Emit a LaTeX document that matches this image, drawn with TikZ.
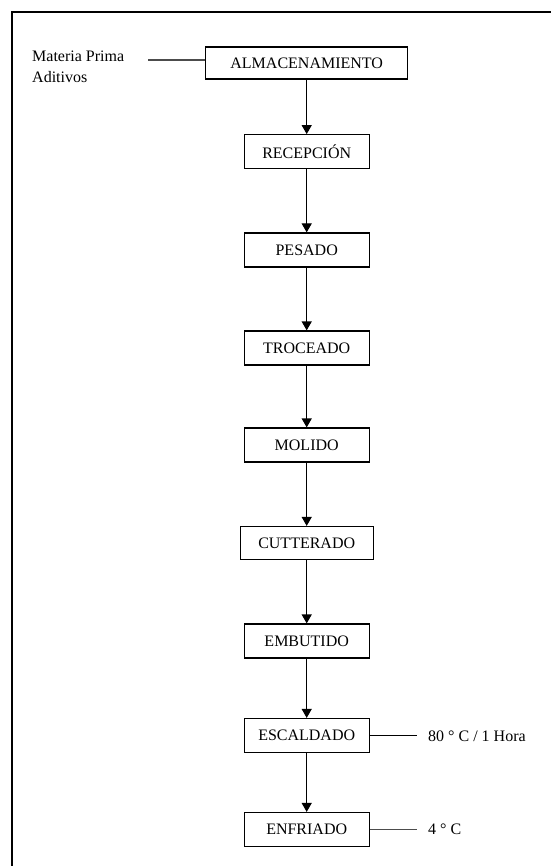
\documentclass[tikz,border=0pt]{standalone}
\usepackage{fontspec}
\setmainfont{Liberation Serif}
\usetikzlibrary{arrows.meta}
\begin{document}
\begin{tikzpicture}[x=1pt,y=-1pt,
  font=\fontsize{16}{19}\selectfont,
  stepbox/.style={draw,line width=1.2pt,inner sep=0pt,minimum width=125pt,minimum height=34pt},
  flow/.style={line width=1.2pt,-{Triangle[length=9pt,width=10pt]}},
  side/.style={line width=1.2pt},
  lbl/.style={inner sep=0pt,anchor=west}]
\useasboundingbox (0,0) rectangle (551,866);
\draw[line width=2.2pt] (12,866) -- (12,12) -- (551,12);
\node[stepbox,minimum width=202pt,minimum height=32pt] (alm) at (306.7,63) {ALMACENAMIENTO};
\node[stepbox] (rec) at (306.7,151.7) {RECEPCIÓN};
\node[stepbox] (pes) at (306.7,250) {PESADO};
\node[stepbox] (tro) at (306.7,348) {TROCEADO};
\node[stepbox] (mol) at (306.7,445) {MOLIDO};
\node[stepbox,minimum width=133pt,minimum height=33pt] (cut) at (306.7,543) {CUTTERADO};
\node[stepbox] (emb) at (306.7,641) {EMBUTIDO};
\node[stepbox] (esc) at (306.7,735.5) {ESCALDADO};
\node[stepbox] (enf) at (306.7,829.5) {ENFRIADO};
\draw[flow] (alm) -- (rec);
\draw[flow] (rec) -- (pes);
\draw[flow] (pes) -- (tro);
\draw[flow] (tro) -- (mol);
\draw[flow] (mol) -- (cut);
\draw[flow] (cut) -- (emb);
\draw[flow] (emb) -- (esc);
\draw[flow] (esc) -- (enf);
\node[lbl] (mp) at (32,56) {Materia Prima};
\node[lbl] (ad) at (32,77) {Aditivos};
\coordinate (mpl) at (148,60);
\draw[side,gray!60!black] (mpl) -- (alm.west |- mpl);
\node[lbl] (t80) at (428,736) {80 ° C / 1 Hora};
\node[lbl] (t4) at (428,829.5) {4 ° C};
\draw[side] (esc.east) -- ([xshift=-11pt]t80.west |- esc.east);
\draw[side,gray!60!black] (enf.east) -- ([xshift=-11pt]t4.west |- enf.east);
\end{tikzpicture}
\end{document}
